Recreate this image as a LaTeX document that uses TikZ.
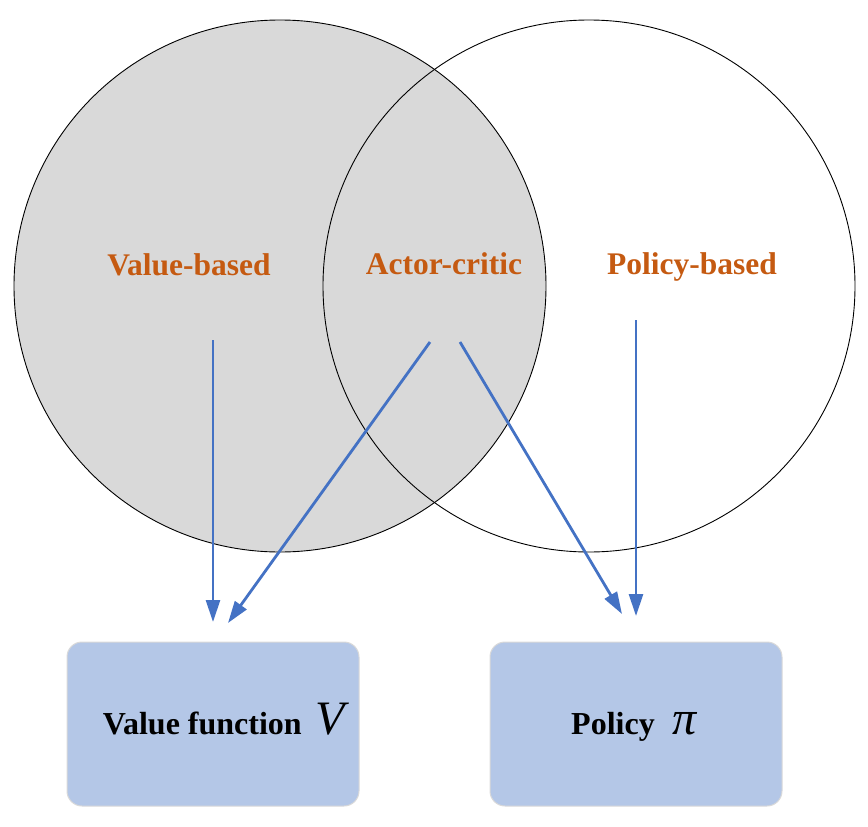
\documentclass[tikz,border=0pt]{standalone}
\usepackage{fontspec}
\setmainfont{Liberation Serif}
\usetikzlibrary{arrows.meta}
\definecolor{lblorange}{HTML}{C55A11}
\definecolor{setgray}{HTML}{D9D9D9}
\definecolor{boxblue}{HTML}{B4C7E7}
\definecolor{arrblue}{HTML}{4472C4}
\tikzset{
  setlabel/.style={text=lblorange, font=\fontsize{31.5}{36}\selectfont\bfseries, inner sep=0pt, anchor=base},
  resultbox/.style={fill=boxblue, draw=black!15, line width=1pt, rounded corners=15pt,
     minimum width=292pt, minimum height=164pt, inner sep=0pt},
  boxtext/.style={font=\fontsize{32}{36}\selectfont\bfseries, inner sep=0pt, anchor=base},
  flow/.style={draw=arrblue, line width=2.8pt, -{Triangle[length=22pt,width=14pt]}},
  circ/.style={draw=black, line width=0.9pt}
}
\begin{document}
\begin{tikzpicture}[x=1pt,y=-1pt]
\useasboundingbox (0,0) rectangle (868,827);
% circles
\fill[setgray] (280,286) circle (266);
\draw[circ] (280,286) circle (266);
\draw[circ] (589,286) circle (266);
% labels
\node[setlabel] (vb) at (189,275) {Value-based};
\node[setlabel] (ac) at (444,274) {Actor-critic};
\node[setlabel] (pb) at (692,274) {Policy-based};
% boxes
\node[resultbox] (vf) at (213,724) {};
\node[resultbox] (pol) at (636,724) {};
\node[boxtext] (vft) at (224,734) {Value function\hspace{14pt}{\fontsize{48}{48}\selectfont\mdseries\itshape V}};
\node[boxtext] (polt) at (634,734) {Policy\hspace{18pt}{\fontsize{48}{48}\selectfont\mdseries\itshape π}};
% connector ends
\coordinate (s1) at (213,340);
\coordinate (t1) at (213,622);
\coordinate (s2) at (430,342);
\coordinate (t2) at (228,623);
\coordinate (s3) at (460,342);
\coordinate (t3) at (622,614);
\coordinate (s4) at (636,320);
\coordinate (t4) at (636,616);
\draw[flow] (s1) -- (t1);
\draw[flow] (s2) -- (t2);
\draw[flow] (s3) -- (t3);
\draw[flow] (s4) -- (t4);
\end{tikzpicture}
\end{document}
